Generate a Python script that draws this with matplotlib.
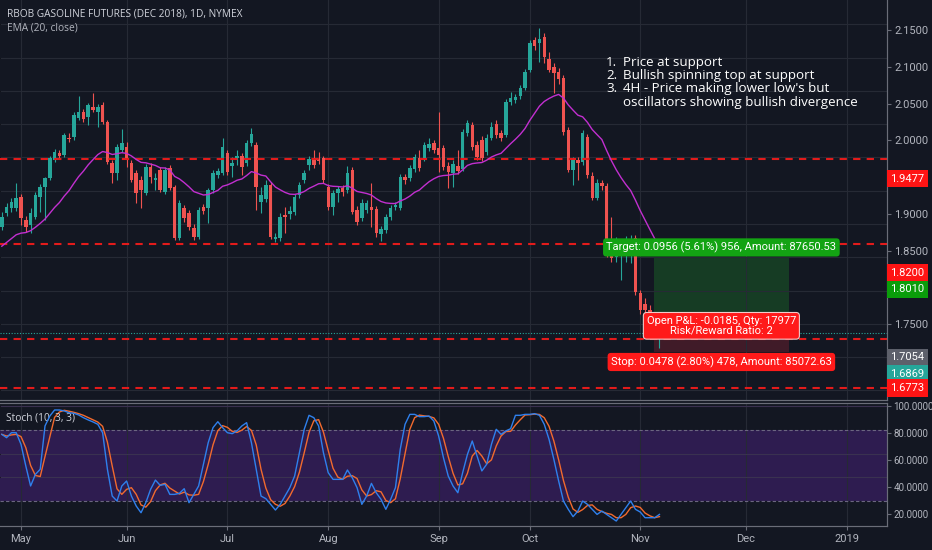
"""RBOB gasoline daily chart (TradingView style) with EMA, stochastic and a long position box."""

import matplotlib
matplotlib.use("Agg")

import matplotlib.pyplot as plt
import matplotlib.transforms as mtransforms
from matplotlib.patches import Rectangle
import numpy as np
import pandas as pd

# --- data -------------------------------------------------------------------
START_DATE = "2018-04-25"
HOLIDAYS = ["2018-05-28", "2018-07-04", "2018-09-03"]

OPEN = [
    1.846, 1.867, 1.874, 1.874, 1.891, 1.856, 1.849, 1.861, 1.891, 1.906,
    1.919, 1.946, 1.957, 1.954, 1.979, 1.981, 2.009, 2.018, 2.011, 2.026,
    2.018, 2.029, 2.003, 1.942, 1.927, 1.961, 1.966, 1.942, 1.927, 1.916,
    1.897, 1.936, 1.916, 1.931, 1.898, 1.934, 1.906, 1.829, 1.874, 1.867,
    1.844, 1.831, 1.876, 1.874, 1.901, 1.924, 1.927, 1.957, 1.937, 1.949,
    1.952, 1.942, 1.972, 1.969, 1.883, 1.888, 1.909, 1.828, 1.829, 1.864,
    1.865, 1.868, 1.894, 1.916, 1.939, 1.946, 1.948, 1.949, 1.906, 1.876,
    1.897, 1.904, 1.901, 1.931, 1.871, 1.859, 1.871, 1.876, 1.873, 1.835,
    1.841, 1.861, 1.876, 1.874, 1.921, 1.919, 1.933, 1.949, 1.949, 1.964,
    1.972, 1.964, 1.964, 1.937, 1.927, 1.937, 1.933, 1.987, 1.999, 1.969,
    1.976, 1.958, 1.979, 2.000, 1.987, 1.984, 2.033, 2.036, 2.042, 2.054,
    2.081, 2.126, 2.122, 2.131, 2.098, 2.086, 2.078, 2.069, 1.991, 1.931,
    1.946, 1.943, 1.981, 1.922, 1.889, 1.912, 1.907, 1.806, 1.800, 1.803,
    1.805, 1.808, 1.829, 1.746, 1.730, 1.721, 1.709, 1.682,
]
HIGH = [
    1.868, 1.882, 1.889, 1.912, 1.895, 1.862, 1.874, 1.898, 1.910, 1.921,
    1.952, 1.963, 1.961, 1.987, 1.987, 2.018, 2.042, 2.023, 2.032, 2.047,
    2.030, 2.033, 2.006, 1.946, 1.970, 1.993, 1.973, 1.946, 1.931, 1.922,
    1.940, 1.942, 1.927, 1.936, 1.936, 1.939, 1.909, 1.886, 1.879, 1.871,
    1.850, 1.876, 1.880, 1.904, 1.931, 1.934, 1.979, 1.961, 1.951, 1.961,
    1.957, 1.976, 1.994, 1.973, 1.906, 1.916, 1.913, 1.837, 1.867, 1.876,
    1.877, 1.895, 1.913, 1.931, 1.952, 1.961, 1.958, 1.952, 1.910, 1.901,
    1.907, 1.909, 1.937, 1.936, 1.877, 1.888, 1.886, 1.912, 1.877, 1.847,
    1.865, 1.879, 1.883, 1.925, 1.925, 1.939, 1.955, 1.961, 1.973, 1.979,
    1.976, 2.018, 1.969, 1.943, 1.946, 1.961, 1.993, 2.006, 2.003, 1.975,
    1.982, 1.985, 2.003, 2.006, 1.991, 2.038, 2.048, 2.045, 2.059, 2.083,
    2.126, 2.131, 2.144, 2.137, 2.108, 2.092, 2.084, 2.074, 1.996, 1.951,
    1.951, 1.991, 1.985, 1.928, 1.918, 1.916, 1.912, 1.861, 1.831, 1.826,
    1.832, 1.834, 1.834, 1.751, 1.739, 1.728, 1.718, 1.697,
]
LOW = [
    1.841, 1.862, 1.868, 1.870, 1.849, 1.838, 1.836, 1.858, 1.868, 1.856,
    1.916, 1.943, 1.949, 1.951, 1.973, 1.976, 2.006, 2.003, 1.999, 2.018,
    1.996, 2.000, 1.940, 1.912, 1.916, 1.958, 1.936, 1.913, 1.882, 1.874,
    1.894, 1.912, 1.901, 1.898, 1.895, 1.901, 1.826, 1.826, 1.853, 1.841,
    1.826, 1.828, 1.865, 1.852, 1.897, 1.919, 1.924, 1.924, 1.921, 1.939,
    1.924, 1.937, 1.967, 1.871, 1.867, 1.883, 1.828, 1.823, 1.825, 1.837,
    1.858, 1.864, 1.889, 1.912, 1.931, 1.934, 1.940, 1.912, 1.871, 1.864,
    1.883, 1.892, 1.897, 1.865, 1.849, 1.855, 1.867, 1.846, 1.831, 1.825,
    1.837, 1.856, 1.871, 1.871, 1.910, 1.915, 1.928, 1.930, 1.945, 1.960,
    1.957, 1.928, 1.931, 1.904, 1.906, 1.925, 1.930, 1.982, 1.961, 1.946,
    1.945, 1.954, 1.976, 1.979, 1.975, 1.981, 2.029, 2.032, 2.038, 2.051,
    2.078, 2.111, 2.093, 2.092, 2.078, 2.047, 2.060, 1.984, 1.928, 1.909,
    1.916, 1.939, 1.919, 1.886, 1.886, 1.901, 1.800, 1.793, 1.793, 1.766,
    1.793, 1.791, 1.743, 1.715, 1.713, 1.706, 1.683, 1.664,
]
CLOSE = [
    1.861, 1.876, 1.883, 1.889, 1.859, 1.846, 1.867, 1.894, 1.906, 1.919,
    1.949, 1.958, 1.952, 1.984, 1.978, 2.014, 2.018, 2.008, 2.029, 2.021,
    2.026, 2.003, 1.943, 1.927, 1.966, 1.972, 1.946, 1.916, 1.897, 1.901,
    1.936, 1.921, 1.919, 1.901, 1.931, 1.904, 1.829, 1.882, 1.859, 1.846,
    1.831, 1.871, 1.870, 1.901, 1.927, 1.930, 1.966, 1.928, 1.942, 1.952,
    1.936, 1.972, 1.985, 1.906, 1.894, 1.909, 1.831, 1.831, 1.861, 1.861,
    1.870, 1.891, 1.909, 1.927, 1.948, 1.939, 1.945, 1.916, 1.876, 1.897,
    1.903, 1.898, 1.927, 1.868, 1.853, 1.882, 1.882, 1.871, 1.837, 1.843,
    1.861, 1.874, 1.879, 1.921, 1.916, 1.934, 1.951, 1.934, 1.969, 1.970,
    1.961, 1.954, 1.936, 1.928, 1.940, 1.930, 1.988, 2.002, 1.966, 1.951,
    1.949, 1.979, 1.996, 1.984, 1.979, 2.033, 2.039, 2.041, 2.054, 2.078,
    2.122, 2.118, 2.128, 2.101, 2.081, 2.077, 2.068, 1.988, 1.931, 1.946,
    1.942, 1.987, 1.924, 1.889, 1.912, 1.907, 1.803, 1.799, 1.803, 1.808,
    1.811, 1.814, 1.748, 1.721, 1.721, 1.709, 1.697, 1.687,
]
EMA_SEED = 1.812  # EMA value just before the first visible bar

STOCH_K = [
    76.3, 73.5, 77.7, 77.7, 67.9, 49.6, 32.7, 42.5, 46.8, 83.4,
    91.8, 96.9, 96.9, 96.1, 94.6, 94.1, 92.7, 90.4, 88.5, 86.8,
    84.8, 77.7, 46.8, 24.2, 20.0, 32.7, 36.9, 24.2, 15.8, 10.1,
    18.6, 29.9, 37.7, 33.2, 34.1, 25.6, 25.6, 26.5, 30.4, 18.6,
    25.6, 32.7, 51.0, 69.3, 82.0, 87.0, 82.0, 77.7, 76.9, 79.2,
    83.4, 86.2, 69.3, 46.8, 24.2, 22.0, 17.2, 12.4, 17.2, 24.2,
    31.3, 41.1, 60.8, 80.6, 92.4, 90.4, 83.4, 60.8, 43.9, 38.3,
    38.3, 38.3, 46.2, 39.7, 31.3, 17.2, 24.2, 34.9, 27.0, 21.4,
    13.0, 21.4, 31.3, 63.7, 84.8, 93.2, 93.2, 91.3, 91.3, 91.8,
    87.6, 74.9, 56.6, 41.1, 32.7, 27.0, 43.9, 59.4, 70.7, 58.0,
    45.4, 51.0, 67.9, 80.6, 76.3, 79.2, 81.1, 92.4, 92.4, 93.2,
    93.2, 93.8, 92.4, 84.8, 72.1, 55.2, 36.9, 20.0, 13.0, 6.8,
    11.5, 20.0, 17.2, 13.0, 8.7, 11.5, 8.7, 5.9, 3.1, 8.7,
    14.4, 20.0, 13.0, 10.7, 5.9, 5.9, 5.9, 8.7,
]

# drawings
HLINES = [1.9477, 1.8200, 1.6773, 1.6037]
LAST_PRICE = 1.6869
ENTRY, TARGET, STOP = 1.7054, 1.8010, 1.6576
POS_BARS = 28

AXIS_TICKS = [2.15, 2.10, 2.05, 2.00, 1.90, 1.85, 1.75]
# (text, position on the price scale, colour)
PRICE_TAGS = [
    ("1.9477", 1.9477, "#ff1414"),
    ("1.8200", 1.8200, "#ff1414"),
    ("1.8010", 1.7980, "#0a9d0a"),
    ("1.7054", 1.7054, "#5d606b"),
    ("1.6869", 1.6826, "#26a69a"),
    ("1.6773", 1.6636, "#ff1414"),
]
STOCH_TICKS = [20, 40, 60, 80, 100]

NOTES_NUM = "1.\n2.\n3.\n"
NOTES = ("Price at support\nBullish spinning top at support\n"
         "4H - Price making lower low's but\noscillators showing bullish divergence")

# --- style ------------------------------------------------------------------
BG = "#131722"
GRID = "#262a35"
AXIS_LINE = "#6a6d78"
TXT = "#b2b5be"
UP = "#26a69a"
DOWN = "#ef5350"
EMA_COLOR = "#c22fd0"
W, H = 932, 550

# bars are laid out on trading days, months ticked at their first bar
days = pd.bdate_range(START_DATE, "2019-01-31")
days = days[~days.isin(pd.to_datetime(HOLIDAYS))]
n = len(CLOSE)
month_pos, month_lab = [], []
for i in range(1, len(days)):
    if days[i].month != days[i - 1].month:
        month_pos.append(i)
        d = days[i]
        month_lab.append(str(d.year) if d.month == 1 else d.strftime("%b"))

o, h, l, c = (np.array(v) for v in (OPEN, HIGH, LOW, CLOSE))
x = np.arange(n)
ema = pd.Series([EMA_SEED] + CLOSE).ewm(span=20, adjust=False).mean().values[1:]
stoch_k = pd.Series(STOCH_K)
stoch_d = stoch_k.rolling(3, min_periods=1).mean()

fig = plt.figure(figsize=(W / 100, H / 100), dpi=100, facecolor=BG)
ax = fig.add_axes([0, 150 / H, 887 / W, 400 / H], facecolor=BG)
st = fig.add_axes([0, 24 / H, 887 / W, 123 / H], facecolor=BG, sharex=ax)

XLIM = (-0.375, 184.4)
ax.set_xlim(*XLIM)
ax.set_ylim(1.5856, 2.1866)

# grid
ax.set_yticks(np.arange(1.60, 2.151, 0.05))
ax.set_xticks(month_pos)
ax.grid(True, color=GRID, linewidth=0.8, zorder=0)
ax.tick_params(left=False, labelleft=False, bottom=False, labelbottom=False)

# price drawings
for lvl in HLINES:
    ax.axhline(lvl, color="#e31b1b", linewidth=1.5, dashes=(3.5, 3), zorder=5)
ax.axhline(LAST_PRICE, color=UP, linewidth=0.8, linestyle=(0, (1, 1.5)), zorder=2)

# candles
colors = np.where(c >= o, UP, DOWN)
ax.vlines(x, l, h, colors=colors, linewidth=0.8, zorder=3)
ax.bar(x, np.maximum(np.abs(c - o), 0.0012), bottom=np.minimum(o, c),
       width=0.72, color=colors, linewidth=0, zorder=4)
ax.plot(x, ema, color=EMA_COLOR, linewidth=1.0, zorder=6)

# long position tool
x0 = n - 2.1
ax.add_patch(Rectangle((x0, ENTRY), POS_BARS, TARGET - ENTRY,
                       facecolor="#1e9e2a", alpha=0.28, linewidth=0, zorder=1))
ax.add_patch(Rectangle((x0, STOP), POS_BARS, ENTRY - STOP,
                       facecolor="#c8283a", alpha=0.25, linewidth=0, zorder=1))
xc = x0 + POS_BARS / 2
lab_font = dict(family="Roboto", fontsize=8, color="white", ha="center")
ax.annotate("Target: 0.0956 (5.61%) 956, Amount: 87650.53", (xc, TARGET),
            xytext=(0, 2.5), textcoords="offset points", va="bottom", zorder=8,
            bbox=dict(boxstyle="round,pad=0.3", fc="#13a313", ec="none"), **lab_font)
ax.annotate("Open P&L: -0.0185, Qty: 17977\nRisk/Reward Ratio: 2", (xc, ENTRY),
            xytext=(0, -4), textcoords="offset points", va="center", zorder=8,
            linespacing=1.0,
            bbox=dict(boxstyle="round,pad=0.3", fc="#ff1a1a", ec="#f3c9c9", lw=0.8),
            **lab_font)
ax.annotate("Stop: 0.0478 (2.80%) 478, Amount: 85072.63", (xc, STOP),
            xytext=(0, -3), textcoords="offset points", va="top", zorder=8,
            bbox=dict(boxstyle="round,pad=0.3", fc="#ff1a1a", ec="none"), **lab_font)

# headers and notes
ax.text(7 / 887, 1 - 14 / 400, "RBOB GASOLINE FUTURES (DEC 2018), 1D, NYMEX",
        transform=ax.transAxes, family="Open Sans", fontsize=7.3, color="#d1d4dc",
        va="center", ha="left")
ax.text(7 / 887, 1 - 28 / 400, "EMA (20, close)", transform=ax.transAxes,
        family="Open Sans", fontsize=7.3, color=TXT, va="center", ha="left")
ax.text(606 / 887, 1 - 56 / 400, NOTES_NUM, transform=ax.transAxes,
        family="Open Sans", fontsize=9.6, color="white", va="top", ha="left",
        linespacing=1.02)
ax.text(623 / 887, 1 - 56 / 400, NOTES, transform=ax.transAxes,
        family="Open Sans", fontsize=9.6, color="white", va="top", ha="left",
        linespacing=1.02)

# right price scale (labels are laid out on their own scale, as in the screenshot)
lab = ax.twinx()
lab.set_ylim(2.15 - 370 / 736, 2.15 + 30 / 736)
lab.set_yticks(AXIS_TICKS)
lab.set_yticklabels([f"{v:.4f}" for v in AXIS_TICKS])
lab.tick_params(axis="y", colors=AXIS_LINE, labelcolor=TXT, length=3, width=0.8,
                pad=2, labelsize=8)
for t in lab.get_yticklabels():
    t.set_family("Roboto")
tag_tr = mtransforms.blended_transform_factory(lab.transAxes, lab.transData)
for text, pos, col in PRICE_TAGS:
    lab.text(1.0035, pos, text, transform=tag_tr, ha="left", va="center",
             family="Roboto", fontsize=8, color="white", zorder=10, clip_on=False,
             bbox=dict(boxstyle="square,pad=0.32", fc=col, ec="none"))

for a in (ax, lab):
    for side in ("top", "left"):
        a.spines[side].set_visible(False)
    a.spines["right"].set_color(AXIS_LINE)
    a.spines["bottom"].set_color(AXIS_LINE)

# stochastic panel
st.set_ylim(-1.1, 102.8)
st.axhspan(20, 80, facecolor="#2e1c50", zorder=0)
st.set_yticks([40, 60, 100])
st.grid(True, color="#3a3150", linewidth=0.8, zorder=1)
st.grid(True, axis="x", color=GRID, linewidth=0.8)
for lvl in (20, 80):
    st.axhline(lvl, color="#6b6580", linewidth=0.8, dashes=(3, 2), zorder=2)
st.plot(x, stoch_k, color="#2f80ed", linewidth=1.0, zorder=4)
st.plot(x, stoch_d, color="#f26a2e", linewidth=1.0, zorder=3)
st.text(6 / 887, (526 - 418) / 123, "Stoch (10, 3, 3)", transform=st.transAxes,
        family="Open Sans", fontsize=7.3, color="#d1d4dc", va="center")
st.set_xticks(month_pos)
st.set_xticklabels(month_lab)
st.tick_params(axis="x", colors=AXIS_LINE, labelcolor=TXT, length=3, labelsize=8,
               pad=3)
st.tick_params(axis="y", left=False, labelleft=False)
for t in st.get_xticklabels():
    t.set_family("Roboto")

st_lab = st.twinx()
st_lab.set_ylim(20 - 12 / 1.35, 20 + 111 / 1.35)
st_lab.set_yticks(STOCH_TICKS)
st_lab.set_yticklabels([f"{v:.4f}" for v in STOCH_TICKS])
st_lab.tick_params(axis="y", colors=AXIS_LINE, labelcolor=TXT, length=3, width=0.8,
                   pad=1.5, labelsize=7)
for t in st_lab.get_yticklabels():
    t.set_family("Roboto")
for a in (st, st_lab):
    for side in ("top", "left", "right", "bottom"):
        a.spines[side].set_color(AXIS_LINE)
    a.spines["left"].set_visible(False)
ax.set_xlim(*XLIM)

fig.savefig("out.png", dpi=100, facecolor=BG)
